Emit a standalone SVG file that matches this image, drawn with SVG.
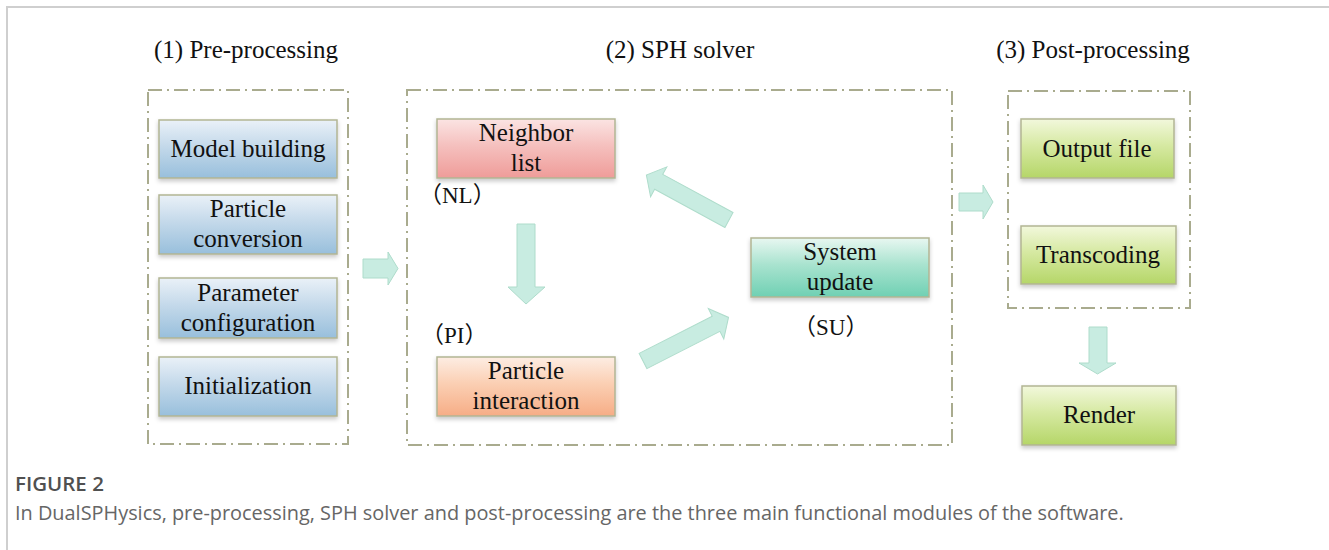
<svg xmlns="http://www.w3.org/2000/svg" width="1329" height="550" viewBox="0 0 1329 550">
  <style>
    .frame { fill: none; stroke: #cfcfcf; stroke-width: 2; }
    .group { fill: none; stroke: #a9ab8e; stroke-width: 2; stroke-dasharray: 14 5 2 5; }
    .box { stroke: #b2b594; stroke-width: 1.5; filter: url(#shadow); }
    .blue { fill: url(#gBlue); }
    .red { fill: url(#gRed); }
    .orange { fill: url(#gOrange); }
    .teal { fill: url(#gTeal); }
    .green { fill: url(#gGreen); }
    .label { font-size: 25px; fill: #111; text-anchor: middle; }
    .heading { font-size: 25px; fill: #111; text-anchor: middle; }
    .abbr { font-size: 23px; fill: #111; }
    .arrow { fill: #c8ece1; stroke: #aedccb; stroke-width: 1; }
    .figno { font-size: 20.5px; font-weight: 600; fill: #505050; }
    .caption { font-size: 19.9px; fill: #666; }
  </style>
  <defs>
    <linearGradient id="gBlue" x1="0" y1="0" x2="0" y2="1">
      <stop offset="0" stop-color="#eaf1f8"/>
      <stop offset="0.45" stop-color="#c4d9ea"/>
      <stop offset="1" stop-color="#98bfdc"/>
    </linearGradient>
    <linearGradient id="gRed" x1="0" y1="0" x2="0" y2="1">
      <stop offset="0" stop-color="#fbe4e3"/>
      <stop offset="0.45" stop-color="#f5c0be"/>
      <stop offset="1" stop-color="#ef9c99"/>
    </linearGradient>
    <linearGradient id="gOrange" x1="0" y1="0" x2="0" y2="1">
      <stop offset="0" stop-color="#fdede3"/>
      <stop offset="0.45" stop-color="#fbcfb3"/>
      <stop offset="1" stop-color="#f6ad86"/>
    </linearGradient>
    <linearGradient id="gTeal" x1="0" y1="0" x2="0" y2="1">
      <stop offset="0" stop-color="#e8f7f1"/>
      <stop offset="0.45" stop-color="#a9e3cf"/>
      <stop offset="1" stop-color="#6fd0b3"/>
    </linearGradient>
    <linearGradient id="gGreen" x1="0" y1="0" x2="0" y2="1">
      <stop offset="0" stop-color="#f2f8dc"/>
      <stop offset="0.45" stop-color="#d6e9a2"/>
      <stop offset="1" stop-color="#b5d668"/>
    </linearGradient>
    <filter id="shadow" x="-10%" y="-10%" width="120%" height="140%">
      <feDropShadow dx="0" dy="2.5" stdDeviation="2" flood-color="#000" flood-opacity="0.22"/>
    </filter>
  </defs>

  <!-- page frame -->
  <path class="frame" d="M7,550 V7 H1329"/>

  <!-- section headings -->
  <g font-family="'Liberation Serif', 'Times New Roman', serif">
    <text class="heading" x="246" y="58">(1) Pre-processing</text>
    <text class="heading" x="680" y="58">(2) SPH solver</text>
    <text class="heading" x="1093" y="58">(3) Post-processing</text>
  </g>

  <!-- module outlines -->
  <g id="modules">
    <rect class="group" x="148" y="90" width="200" height="354"/>
    <rect class="group" x="407" y="90" width="545" height="355"/>
    <rect class="group" x="1008" y="91" width="182" height="217"/>
  </g>

  <g font-family="'Liberation Serif', 'Times New Roman', 'Noto Sans CJK SC', serif">
    <!-- pre-processing -->
    <g id="model-building">
      <rect class="box blue" x="159" y="120" width="178" height="58"/>
      <text class="label" x="248" y="157">Model building</text>
    </g>
    <g id="particle-conversion">
      <rect class="box blue" x="159" y="195" width="178" height="59"/>
      <text class="label" x="248" y="217">Particle</text>
      <text class="label" x="248" y="247">conversion</text>
    </g>
    <g id="parameter-configuration">
      <rect class="box blue" x="159" y="278" width="178" height="60"/>
      <text class="label" x="248" y="301">Parameter</text>
      <text class="label" x="248" y="331">configuration</text>
    </g>
    <g id="initialization">
      <rect class="box blue" x="159" y="357" width="178" height="59"/>
      <text class="label" x="248" y="394">Initialization</text>
    </g>

    <!-- SPH solver -->
    <g id="neighbor-list">
      <rect class="box red" x="437" y="119" width="178" height="59"/>
      <text class="label" x="526" y="141">Neighbor</text>
      <text class="label" x="526" y="171">list</text>
      <text class="abbr" x="419" y="203">（NL）</text>
    </g>
    <g id="particle-interaction">
      <rect class="box orange" x="437" y="357" width="178" height="59"/>
      <text class="label" x="526" y="379">Particle</text>
      <text class="label" x="526" y="409">interaction</text>
      <text class="abbr" x="421" y="343">（PI）</text>
    </g>
    <g id="system-update">
      <rect class="box teal" x="751" y="238" width="178" height="59"/>
      <text class="label" x="840" y="260">System</text>
      <text class="label" x="840" y="290">update</text>
      <text class="abbr" x="793" y="335">（SU）</text>
    </g>

    <!-- post-processing -->
    <g id="output-file">
      <rect class="box green" x="1021" y="119" width="153" height="59"/>
      <text class="label" x="1097" y="157">Output file</text>
    </g>
    <g id="transcoding">
      <rect class="box green" x="1021" y="226" width="155" height="58"/>
      <text class="label" x="1098" y="263">Transcoding</text>
    </g>
    <g id="render">
      <rect class="box green" x="1022" y="386" width="154" height="59"/>
      <text class="label" x="1099" y="423">Render</text>
    </g>
  </g>

  <!-- block arrows -->
  <g id="connectors">
    <polygon class="arrow" points="363,259 388,259 388,252 398,268.5 388,285 388,278 363,278"/>
    <polygon class="arrow" points="959,193 983,193 983,185 993,202 983,219 983,211 959,211"/>
    <polygon class="arrow" points="517,224 535,224 535,287 545,287 526,304 508,287 517,287"/>
    <polygon class="arrow" points="1089,327 1107,327 1107,363 1116,363 1097.5,374 1079,363 1089,363"/>
    <!-- particle interaction to system update -->
    <path class="arrow" transform="translate(643,361) rotate(-27)" d="M0,-8.5 H82 V-17 L96,0 L82,17 V8.5 H0 Z"/>
    <!-- system update back to neighbor list -->
    <path class="arrow" transform="translate(729,220) rotate(208.5)" d="M0,-8.5 H80 V-17 L94,0 L80,17 V8.5 H0 Z"/>
  </g>

  <!-- caption -->
  <g font-family="'Open Sans', 'Noto Sans', sans-serif">
    <text class="figno" x="15" y="491">FIGURE 2</text>
    <text class="caption" x="15" y="520">In DualSPHysics, pre-processing, SPH solver and post-processing are the three main functional modules of the software.</text>
  </g>
</svg>
